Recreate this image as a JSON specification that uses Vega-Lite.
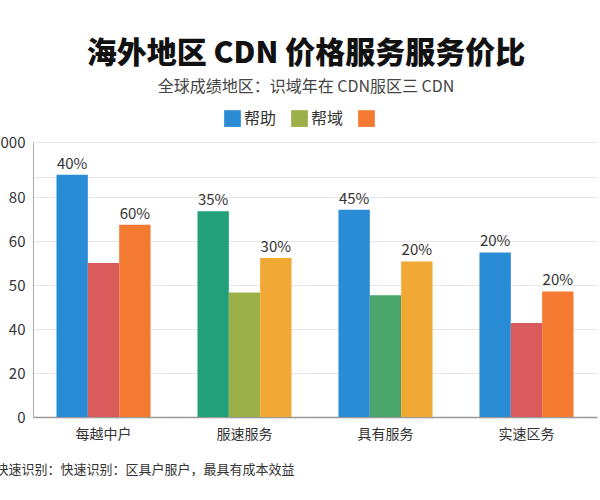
{
  "$schema": "https://vega.github.io/schema/vega-lite/v6.json",
  "autosize": {"type": "none"},
  "padding": {"left": 33, "top": 142, "right": 3, "bottom": 83},
  "width": 564,
  "height": 275,
  "background": "white",
  "title": {
    "text": "海外地区 CDN 价格服务服务价比",
    "subtitle": "全球成绩地区：识域年在 CDN服区三 CDN",
    "anchor": "middle",
    "dx": -9,
    "offset": 15,
    "fontSize": 30,
    "fontWeight": 900,
    "color": "#111111",
    "subtitleFontSize": 16,
    "subtitleColor": "#444444",
    "subtitlePadding": 10
  },
  "config": {
    "font": "Noto Sans CJK SC",
    "view": {"stroke": null}
  },
  "data": {
    "values": [
      {"id": "b1", "地区": "每越中户", "系列": "帮助", "值": 110.1, "标签": "40%"},
      {"id": "b2", "地区": "每越中户", "系列": "帮域", "值": 70.0, "标签": ""},
      {"id": "b3", "地区": "每越中户", "系列": "其他", "值": 87.4, "标签": "60%"},
      {"id": "b4", "地区": "服速服务", "系列": "帮助", "值": 93.5, "标签": "35%"},
      {"id": "b5", "地区": "服速服务", "系列": "帮域", "值": 56.6, "标签": ""},
      {"id": "b6", "地区": "服速服务", "系列": "其他", "值": 72.3, "标签": "30%"},
      {"id": "b7", "地区": "具有服务", "系列": "帮助", "值": 94.2, "标签": "45%"},
      {"id": "b8", "地区": "具有服务", "系列": "帮域", "值": 55.3, "标签": ""},
      {"id": "b9", "地区": "具有服务", "系列": "其他", "值": 70.7, "标签": "20%"},
      {"id": "b10", "地区": "实速区务", "系列": "帮助", "值": 74.8, "标签": "20%"},
      {"id": "b11", "地区": "实速区务", "系列": "帮域", "值": 42.7, "标签": ""},
      {"id": "b12", "地区": "实速区务", "系列": "其他", "值": 57.1, "标签": "20%"}
    ]
  },
  "encoding": {
    "x": {
      "field": "地区",
      "type": "nominal",
      "sort": ["每越中户", "服速服务", "具有服务", "实速区务"],
      "scale": {"paddingInner": 0.333, "paddingOuter": 0.1667},
      "axis": {
        "title": "快速识别：快速识别：区具户服户，最具有成本效益",
        "titleAnchor": "start",
        "titleX": -38,
        "titleY": 52,
        "titleBaseline": "middle",
        "titleFontSize": 13,
        "titleFontWeight": "normal",
        "titleColor": "#333333",
        "labelAngle": 0,
        "labelFontSize": 14,
        "labelColor": "#333333",
        "labelPadding": 10,
        "ticks": false,
        "grid": false,
        "domainColor": "#999999",
        "domainWidth": 1.5
      }
    },
    "xOffset": {
      "field": "系列",
      "type": "nominal",
      "scale": {"domain": ["帮助", "帮域", "其他"], "paddingInner": 0, "paddingOuter": 0}
    },
    "y": {
      "field": "值",
      "type": "quantitative",
      "scale": {"domain": [0, 125], "nice": false},
      "axis": {
        "title": null,
        "values": [0, 20, 40, 60, 80, 100, 109, 125],
        "labelExpr": "datum.value == 0 ? '0' : datum.value == 20 ? '20' : datum.value == 40 ? '40' : datum.value == 60 ? '50' : datum.value == 80 ? '60' : datum.value == 100 ? '80' : datum.value == 125 ? '1000' : ''",
        "labelFontSize": 15,
        "labelColor": "#333333",
        "labelPadding": 8,
        "ticks": false,
        "grid": true,
        "gridColor": "#e6e6e6",
        "domainColor": "#aaaaaa",
        "domainWidth": 1
      }
    }
  },
  "layer": [
    {
      "mark": {"type": "square", "opacity": 0},
      "encoding": {
        "color": {
          "field": "系列",
          "type": "nominal",
          "scale": {"domain": ["帮助", "帮域", "其他"], "range": ["#2b8cd6", "#9cb04a", "#f47a32"]},
          "legend": {
            "orient": "none",
            "legendX": 191,
            "legendY": -32,
            "direction": "horizontal",
            "title": null,
            "symbolType": "square",
            "symbolSize": 280,
            "symbolOpacity": 1,
            "symbolStrokeWidth": 0,
            "labelFontSize": 16,
            "labelColor": "#333333",
            "labelOffset": 3,
            "columnPadding": 14,
            "labelExpr": "datum.label == '其他' ? '' : datum.label"
          }
        }
      }
    },
    {
      "mark": {"type": "bar"},
      "encoding": {
        "color": {
          "field": "id",
          "type": "nominal",
          "scale": {
            "domain": ["b1", "b2", "b3", "b4", "b5", "b6", "b7", "b8", "b9", "b10", "b11", "b12"],
            "range": ["#2b8cd6", "#d95b5b", "#f47a32", "#22a07a", "#9cb04a", "#f2a834", "#2b8cd6", "#4aa56b", "#f2a834", "#2b8cd6", "#d95b5b", "#f47a32"]
          },
          "legend": null
        }
      }
    },
    {
      "mark": {"type": "text", "baseline": "bottom", "dy": -3, "fontSize": 15, "color": "#333333"},
      "encoding": {"text": {"field": "标签"}}
    }
  ],
  "resolve": {"scale": {"color": "independent"}}
}
